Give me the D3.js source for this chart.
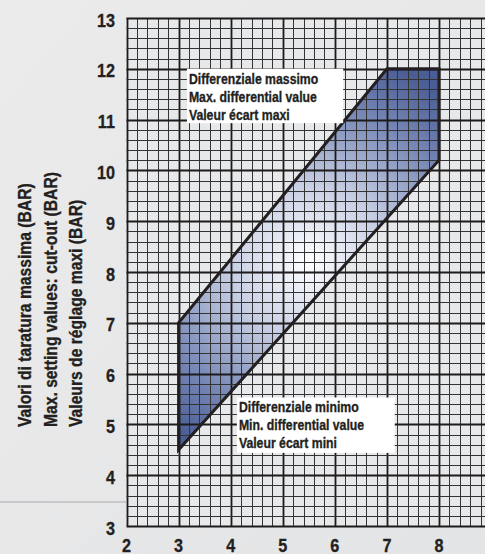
<!DOCTYPE html>
<html><head><meta charset="utf-8">
<script src="https://cdn.jsdelivr.net/npm/d3@7/dist/d3.min.js"></script>
<style>
html,body{margin:0;padding:0;background:#e8e8e9;}
svg{display:block;}
</style></head>
<body>
<script>
// ---- data ----
const xTicks = [2,3,4,5,6,7,8,9];
const yTicks = [3,4,5,6,7,8,9,10,11,12,13];
const regionX = [3, 3, 7, 8, 8];
const regionY = [4.5, 7, 12, 12, 10.2];
const titleLines = ["Valori di taratura massima (BAR)", "Max. setting values: cut-out (BAR)", "Valeurs de réglage maxi (BAR)"];
const maxLabel = ["Differenziale massimo", "Max. differential value", "Valeur écart maxi"];
const minLabel = ["Differenziale minimo", "Min. differential value", "Valeur écart mini"];

const W = 485, H = 554;
const FONT = "'Liberation Sans',Arial,sans-serif";
const ink = "#231f20";

const x = d3.scaleLinear().domain([2, 8]).range([126.5, 439]);
const y = d3.scaleLinear().domain([3, 13]).range([526, 18]);

const svg = d3.select("body").append("svg").attr("width", W).attr("height", H);

// compress text horizontally (condensed look)
function condense(sel, k) {
  sel.each(function() {
    const w = this.getComputedTextLength();
    d3.select(this).attr("textLength", w * k).attr("lengthAdjust", "spacingAndGlyphs");
  });
}
function heavy(sel, sw) {
  sel.attr("stroke", ink).attr("stroke-width", sw).attr("paint-order", "stroke");
}

// background
const defs = svg.append("defs");
const bg = defs.append("linearGradient").attr("id","bg").attr("x1",0).attr("y1",0).attr("x2",1).attr("y2",1);
bg.append("stop").attr("offset",0).attr("stop-color","#ebebec");
bg.append("stop").attr("offset",1).attr("stop-color","#e3e4e5");
svg.append("rect").attr("width",W).attr("height",H).attr("fill","url(#bg)");

// separator line in background
svg.append("line").attr("x1",0).attr("x2",x(2)).attr("y1",502).attr("y2",502)
  .attr("stroke","#a9a9ab").attr("stroke-width",1);

// plot area background
svg.append("rect").attr("x",x(2)).attr("y",y(13)).attr("width",W - x(2)).attr("height",y(3)-y(13))
  .attr("fill","#e7e8ea");

// region fill
const rg = defs.append("radialGradient").attr("id","reg").attr("gradientUnits","userSpaceOnUse")
  .attr("cx",308).attr("cy",262).attr("r",215);
rg.append("stop").attr("offset",0).attr("stop-color","#ffffff");
rg.append("stop").attr("offset",0.35).attr("stop-color","#c9d0e4");
rg.append("stop").attr("offset",0.75).attr("stop-color","#7384b3");
rg.append("stop").attr("offset",1).attr("stop-color","#4a5d94");

const pts = regionX.map((v,i)=>[x(v), y(regionY[i])]);
const lineGen = d3.line().curve(d3.curveLinearClosed);
svg.append("path").attr("d", lineGen(pts)).attr("fill","url(#reg)");

// grid
const grid = svg.append("g");
const minorX = d3.range(0, 36).map(i => 2 + i*0.2);
const minorY = d3.range(0, 51).map(i => 3 + i*0.2);
minorX.forEach(v => {
  const major = Math.abs(v - Math.round(v)) < 1e-6;
  grid.append("line").attr("x1",Math.round(x(v))+0.5).attr("x2",Math.round(x(v))+0.5)
    .attr("y1",y(13)).attr("y2",y(3))
    .attr("stroke", major ? "#1c1a1b" : "#333335").attr("stroke-width", major ? 1.8 : 1);
});
minorY.forEach(v => {
  const major = Math.abs(v - Math.round(v)) < 1e-6;
  grid.append("line").attr("y1",Math.round(y(v))+0.5).attr("y2",Math.round(y(v))+0.5)
    .attr("x1",x(2)).attr("x2",W)
    .attr("stroke", major ? "#1c1a1b" : "#333335").attr("stroke-width", major ? 1.8 : 1);
});

// region outline
svg.append("path").attr("d", lineGen(pts)).attr("fill","none")
  .attr("stroke",ink).attr("stroke-width",3).attr("stroke-linejoin","miter");

// label boxes
function box(x0, y0, x1, y1, lines) {
  const bx = x(x0), by = y(y0), bw = x(x1) - x(x0), bh = y(y1) - y(y0);
  svg.append("rect").attr("x",bx).attr("y",by).attr("width",bw).attr("height",bh).attr("fill","#ffffff");
  lines.forEach((t,i) => {
    svg.append("text").attr("x",bx+2).attr("y",by + 15 + i*18)
      .attr("font-family",FONT).attr("font-weight","bold").attr("font-size",15.5)
      .attr("fill",ink).text(t).call(condense, 0.79).call(heavy, 0.35);
  });
}
box(3.16, 12, 6.16, 10.93, maxLabel);
box(4.12, 5.53, 7.15, 4.44, minLabel);

// y tick labels
svg.append("g").selectAll("text").data(yTicks).join("text")
  .attr("x", 115).attr("y", d => y(d) + 8.5)
  .attr("text-anchor","end")
  .attr("font-family",FONT).attr("font-weight","bold").attr("font-size",18)
  .attr("fill",ink).text(d => d).call(condense, 0.9).call(heavy, 0.3);

// x tick labels
svg.append("g").selectAll("text").data(xTicks).join("text")
  .attr("x", d => x(d)).attr("y", 552)
  .attr("text-anchor","middle")
  .attr("font-family",FONT).attr("font-weight","bold").attr("font-size",18)
  .attr("fill",ink).text(d => d).call(condense, 0.9).call(heavy, 0.3);

// axis title (three rotated lines, start-aligned at bottom)
const titleX = [31, 57, 82];
titleLines.forEach((t,i) => {
  svg.append("text")
    .attr("transform", `translate(${titleX[i]},427) rotate(-90)`)
    .attr("text-anchor","start")
    .attr("font-family",FONT).attr("font-weight","bold").attr("font-size",18)
    .attr("fill",ink).text(t).call(condense, 0.87).call(heavy, 0.35);
});
</script>
</body></html>
